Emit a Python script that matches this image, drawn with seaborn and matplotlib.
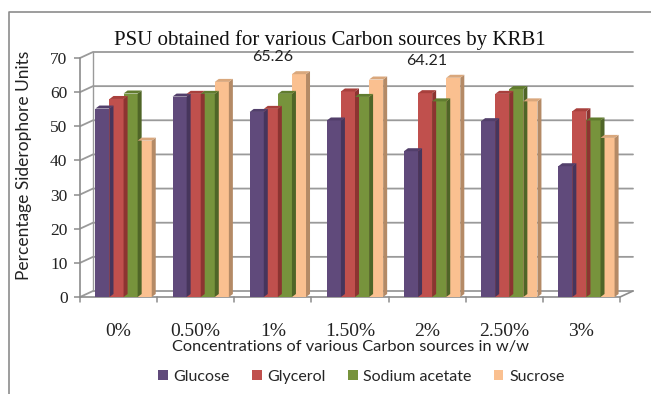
import matplotlib
matplotlib.use("Agg")
import matplotlib.pyplot as plt
from matplotlib.patches import Polygon, Patch
from matplotlib.lines import Line2D
import pandas as pd
import seaborn as sns

# ---- data -------------------------------------------------------------
concentrations = ["0%", "0.50%", "1%", "1.50%", "2%", "2.50%", "3%"]
sources = ["Glucose", "Glycerol", "Sodium acetate", "Sucrose"]
glucose = [55.2, 58.7, 54.2, 51.7, 42.7, 51.5, 38.3]
glycerol = [58.0, 59.5, 55.1, 60.2, 59.7, 59.5, 54.4]
sodium_acetate = [59.6, 59.5, 59.5, 58.6, 57.3, 60.9, 51.7]
sucrose = [45.8, 63.0, 65.26, 63.7, 64.21, 57.3, 46.6]
y_ticks = [0, 10, 20, 30, 40, 50, 60, 70]
# bars whose value is printed above their group
labelled_bars = [("1%", "Sucrose"), ("2%", "Sucrose")]

front_colors = ["#604A7B", "#C0504D", "#77933C", "#FAC090"]
shade_colors = ["#46355C", "#8C3431", "#4F6527", "#B48A66"]
top_colors = ["#523F6B", "#A8403C", "#617C2F", "#D9A77C"]

df = pd.DataFrame({
    "Concentration": concentrations * 4,
    "Source": [s for s in sources for _ in concentrations],
    "PSU": glucose + glycerol + sodium_acetate + sucrose,
})

# ---- figure -----------------------------------------------------------
W, H, DPI = 651, 394, 100
fig = plt.figure(figsize=(W / DPI, H / DPI), dpi=DPI)
sns.set_style("white")
plt.rcParams["font.family"] = ["Lato", "DejaVu Sans"]

ax_left, ax_right, ax_bottom, ax_top = 80, 620, 97, 336   # pixel box
ax = fig.add_axes([ax_left / W, ax_bottom / H,
                   (ax_right - ax_left) / W, (ax_top - ax_bottom) / H])

sns.barplot(data=df, x="Concentration", y="PSU", hue="Source",
            order=concentrations, hue_order=sources, palette=front_colors,
            width=0.73, gap=0.0, saturation=1, ax=ax, legend=False,
            linewidth=0, zorder=3)

ax.set_xlim(-0.5, len(concentrations) - 0.5)
ax.set_ylim(0, 70)
for s in ax.spines.values():
    s.set_visible(False)

# pixel -> data unit conversions
px_x = (ax_right - ax_left) / len(concentrations)   # pixels per category
px_y = (ax_top - ax_bottom) / 70.0                   # pixels per unit
def dx(p):
    return p / px_x
def dy(p):
    return p / px_y

# back wall, left wall and floor
wall_dx, wall_dy = dx(13), dy(6)
grid_col = "#9A9A9A"
x0, x1 = -0.5, len(concentrations) - 0.5
for v in y_ticks:
    ax.plot([x0, x0 + wall_dx, x1 + wall_dx], [v, v + wall_dy, v + wall_dy],
            color=grid_col, lw=1.3, zorder=1, clip_on=False)
ax.plot([x0 + wall_dx, x0 + wall_dx], [wall_dy, 70 + wall_dy],
        color=grid_col, lw=1.0, zorder=1, clip_on=False)
# front left axis and floor edge
ax.plot([x0, x0], [0, 70], color="#8C8C8C", lw=1.2, zorder=2, clip_on=False)
ax.plot([x0, x1, x1 + wall_dx], [0, 0, wall_dy], color="#8C8C8C", lw=1.2,
        zorder=2, clip_on=False)

# ticks
ax.set_yticks(y_ticks)
ax.set_yticklabels([str(v) for v in y_ticks], family="Liberation Serif",
                   fontsize=12.5, color="#222222")
ax.tick_params(axis="y", length=4, width=1.1, color="#8C8C8C", pad=5,
               left=True)
ax.set_xticks(range(len(concentrations)))
ax.set_xticklabels(concentrations, family="Liberation Serif", fontsize=14,
                   color="#222222")
ax.tick_params(axis="x", length=0, pad=19)
for k in range(len(concentrations) + 1):
    ax.plot([k - 0.5, k - 0.5], [0, -dy(5)], color="#8C8C8C", lw=1.1,
            clip_on=False, zorder=2)

# 3D faces of the columns
bar_dx, bar_dy = dx(4), dy(3)
shift = dx(5)
for i, bars in enumerate(ax.containers):
    for j, bar in enumerate(bars):
        bar.set_x(bar.get_x() + shift)
        bx, bw, bh = bar.get_x(), bar.get_width(), bar.get_height()
        side = Polygon([(bx + bw, 0), (bx + bw, bh),
                        (bx + bw + bar_dx, bh + bar_dy),
                        (bx + bw + bar_dx, bar_dy)], closed=True,
                       facecolor=shade_colors[i], edgecolor="none", zorder=3)
        top = Polygon([(bx, bh), (bx + bw, bh),
                       (bx + bw + bar_dx, bh + bar_dy),
                       (bx + bar_dx, bh + bar_dy)], closed=True,
                      facecolor=top_colors[i], edgecolor="none", zorder=3)
        ax.add_patch(side)
        ax.add_patch(top)

# value labels
for conc, src in labelled_bars:
    val = df[(df.Concentration == conc) & (df.Source == src)].PSU.iloc[0]
    k = concentrations.index(conc)
    ax.annotate(f"{val:.2f}", (k, val), xytext=(0, 7),
                textcoords="offset points", ha="center", va="bottom",
                fontsize=11.5, color="#222222", zorder=5)

ax.set_xlabel("Concentrations of various Carbon sources in w/w",
              fontsize=11.8, color="#222222", labelpad=0)
ax.set_ylabel("Percentage Siderophore Units", fontsize=12.5,
              color="#222222")
ax.yaxis.set_label_coords(-0.088, 0.55)

fig.text(0.507, 1 - 40 / H, "PSU obtained for various Carbon sources by KRB1",
         family="Liberation Serif", fontsize=15, ha="center", va="center",
         color="#111111")

handles = [Patch(facecolor=c, edgecolor="none") for c in front_colors]
fig.legend(handles, sources, loc="center", bbox_to_anchor=(0.555, 1 - 377 / H),
           ncol=4, frameon=False, fontsize=11.5, handlelength=0.6,
           handleheight=0.6, handletextpad=0.35, columnspacing=1.4)

# chart border
fig.add_artist(Line2D([9 / W, 9 / W, 1.0], [0.0, 1 - 12 / H, 1 - 12 / H],
                      transform=fig.transFigure, color="#8C8C8C", lw=1.2))

fig.savefig("out.png", dpi=DPI)
